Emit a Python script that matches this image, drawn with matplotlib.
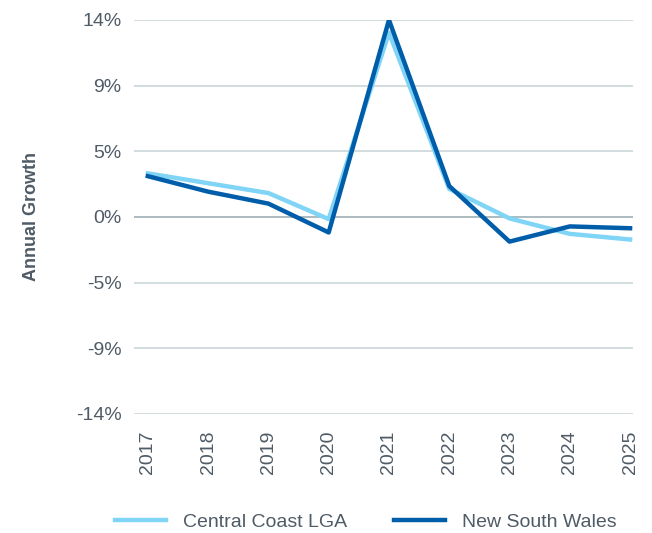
import matplotlib
matplotlib.use("Agg")
import matplotlib.pyplot as plt
import numpy as np

plt.rcParams["font.family"] = ["Liberation Sans", "DejaVu Sans"]

# values (annual growth, %)
years = [2017, 2018, 2019, 2020, 2021, 2022, 2023, 2024, 2025]
central_coast = [3.1, 2.4, 1.7, -0.15, 13.1, 2.0, -0.1, -1.2, -1.6]
nsw = [2.9, 1.8, 0.95, -1.1, 14.0, 2.2, -1.75, -0.67, -0.8]
ytick_vals = [-14, -28 / 3, -14 / 3, 0, 14 / 3, 28 / 3, 14]
ytick_labels = ["-14%", "-9%", "-5%", "0%", "5%", "9%", "14%"]

text_col = "#4f5b66"
grid_col = "#c6d3d6"

fig = plt.figure(figsize=(6.52, 5.33), dpi=100)
ax = fig.add_axes([0.2055, 0.2233, 0.7655, 0.7392])

for v in ytick_vals:
    col = "#93a8ae" if v == 0 else grid_col
    ax.axhline(v, color=col, lw=1.1, zorder=1)

ax.plot(years, central_coast, color="#80d4f6", lw=3.2, label="Central Coast LGA", zorder=3)
ax.plot(years, nsw, color="#005daa", lw=3.2, label="New South Wales", zorder=4)

ax.set_xlim(2016.77, 2025.05)
ax.set_ylim(-14, 14)
ax.set_yticks(ytick_vals)
ax.set_yticklabels(ytick_labels)
ax.set_xticks(years)
ax.set_xticklabels([str(y) for y in years], rotation=90)
ax.tick_params(axis="both", length=0, labelsize=14, colors=text_col)
ax.tick_params(axis="y", pad=9)
ax.tick_params(axis="x", pad=12)
for s in ax.spines.values():
    s.set_visible(False)

ax.set_ylabel("Annual Growth", fontsize=13, fontweight="bold", color=text_col, labelpad=26)

ax.legend(loc="center", bbox_to_anchor=(0.465, -0.275), ncol=2, frameon=False,
          fontsize=14, labelcolor=text_col, handlelength=2.6, columnspacing=2.4,
          handletextpad=0.9)

plt.savefig("out.png", dpi=100)
